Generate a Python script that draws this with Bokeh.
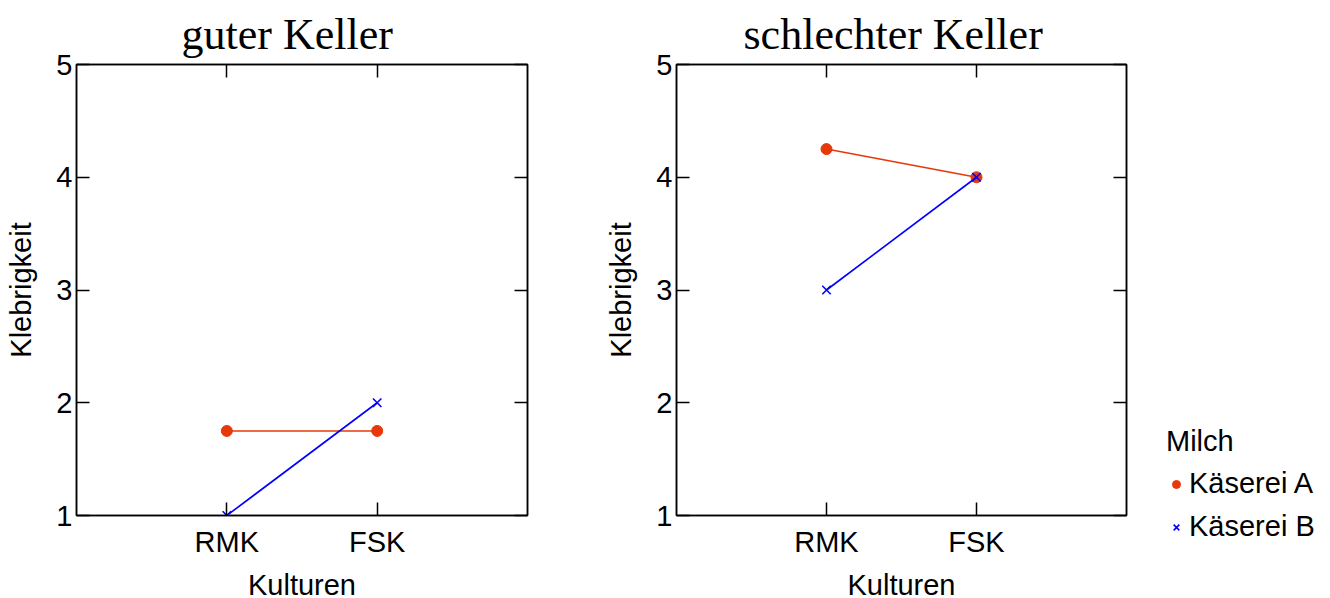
from bokeh.plotting import figure
from bokeh.layouts import row, column
from bokeh.models import (Range1d, FixedTicker, LinearAxis, Legend, LegendItem,
                          ColumnDataSource)
from bokeh.embed import file_html
from bokeh.resources import INLINE

# ---- data ----
categories = ["RMK", "FSK"]
panel_titles = ["guter Keller", "schlechter Keller"]
guter_A = [1.75, 1.75]
guter_B = [1.0, 2.0]
schlechter_A = [4.25, 4.0]
schlechter_B = [3.0, 4.0]
series_names = ["Käserei A", "Käserei B"]
y_ticks = [1, 2, 3, 4, 5]
legend_title = "Milch"

RED = "#E8380A"
BLUE = "#0000FF"
SANS = "Liberation Sans"
SERIF = "Liberation Serif"

xpos = [i + 1 for i in range(len(categories))]
overrides = {x: c for x, c in zip(xpos, categories)}


def add_series(p, a_vals, b_vals):
    src_a = ColumnDataSource(dict(x=xpos, y=a_vals))
    src_b = ColumnDataSource(dict(x=xpos, y=b_vals))
    p.line("x", "y", source=src_a, line_color=RED, line_width=1.6)
    ra = p.scatter("x", "y", source=src_a, marker="circle", size=11,
                   fill_color=RED, line_color=RED)
    p.line("x", "y", source=src_b, line_color=BLUE, line_width=1.6)
    rb = p.scatter("x", "y", source=src_b, marker="x", size=12,
                   line_color=BLUE, line_width=1.6)
    return ra, rb


def make_panel(title, a_vals, b_vals, border_top, border_bottom, frame_w,
               border_right, title_offset):
    p = figure(frame_width=frame_w, frame_height=451,
               min_border_left=76, min_border_right=border_right,
               min_border_top=border_top, min_border_bottom=border_bottom,
               x_range=Range1d(0, len(categories) + 1), y_range=Range1d(1, 5),
               output_backend="svg", toolbar_location=None,
               background_fill_color="white", border_fill_color="white",
               outline_line_color="black", outline_line_width=1.5)
    p.title.text = title
    p.title.text_font = SERIF
    p.title.text_font_size = "44px"
    p.title.text_font_style = "normal"
    p.title.align = "left"
    p.title.offset = title_offset
    p.title.standoff = 11
    p.title.text_color = "black"
    p.xgrid.visible = False
    p.ygrid.visible = False

    # main axes
    for ax in (p.xaxis[0], p.yaxis[0]):
        ax.major_tick_in = 13
        ax.major_tick_out = 0
        ax.minor_tick_in = 0
        ax.minor_tick_out = 0
        ax.axis_line_color = "black"
        ax.axis_line_width = 1.5
        ax.major_tick_line_color = "black"
        ax.major_tick_line_width = 1.5
        ax.major_label_text_font = SANS
        ax.major_label_text_font_size = "29px"
        ax.major_label_text_color = "black"
        ax.axis_label_text_font = SANS
        ax.axis_label_text_font_size = "29px"
        ax.axis_label_text_font_style = "normal"
        ax.axis_label_text_color = "black"
    p.xaxis[0].ticker = FixedTicker(ticks=xpos)
    p.xaxis[0].major_label_overrides = overrides
    p.xaxis[0].major_label_standoff = 10
    p.xaxis[0].axis_label = "Kulturen"
    p.xaxis[0].axis_label_standoff = 8
    p.yaxis[0].ticker = FixedTicker(ticks=y_ticks)
    p.yaxis[0].major_label_standoff = 4
    p.yaxis[0].axis_label = "Klebrigkeit"
    p.yaxis[0].axis_label_standoff = 16

    # mirrored axes (ticks only)
    top = LinearAxis(ticker=FixedTicker(ticks=xpos),
                     major_label_overrides={x: "" for x in xpos})
    right = LinearAxis(ticker=FixedTicker(ticks=y_ticks),
                       major_label_overrides={y: "" for y in y_ticks})
    for ax in (top, right):
        ax.major_tick_in = 13
        ax.major_tick_out = 0
        ax.minor_tick_in = 0
        ax.minor_tick_out = 0
        ax.major_label_standoff = 0
        ax.major_label_text_font_size = "1px"
        ax.axis_line_color = "black"
        ax.axis_line_width = 1.5
        ax.major_tick_line_color = "black"
        ax.major_tick_line_width = 1.5
    p.add_layout(top, "above")
    p.add_layout(right, "right")

    ra, rb = add_series(p, a_vals, b_vals)
    return p, ra, rb


p1, _, _ = make_panel(panel_titles[0], guter_A, guter_B, 62, 85, 451, 73, 105)
p2, _, _ = make_panel(panel_titles[1], schlechter_A, schlechter_B, 64, 83,
                      450, 20, 67)

# legend panel (its glyphs lie outside the visible range; only the key shows)
p3 = figure(width=184, height=598, min_border=0,
            min_border_left=0, min_border_right=0,
            min_border_top=0, min_border_bottom=0,
            x_range=Range1d(-20, -19), y_range=Range1d(-20, -19),
            x_axis_type=None, y_axis_type=None,
            output_backend="svg", toolbar_location=None,
            outline_line_color=None, background_fill_color="white",
            border_fill_color="white")
p3.title.visible = False
p3.xgrid.visible = False
p3.ygrid.visible = False
ra3, rb3 = add_series(p3, schlechter_A, schlechter_B)

legend = Legend(items=[LegendItem(label=series_names[0], renderers=[ra3]),
                       LegendItem(label=series_names[1], renderers=[rb3])],
                title=legend_title, location=(20, 55))
legend.title_text_font = SANS
legend.title_text_font_size = "29px"
legend.title_text_font_style = "normal"
legend.title_text_color = "black"
legend.label_text_font = SANS
legend.label_text_font_size = "29px"
legend.label_text_color = "black"
legend.border_line_color = None
legend.background_fill_alpha = 0
legend.padding = 0
legend.margin = 0
legend.glyph_width = 20
legend.glyph_height = 20
legend.label_standoff = 3
legend.label_height = 30
legend.spacing = 10
legend.title_standoff = 9
p3.add_layout(legend, "center")

layout = row(p1, p2, column(p3))
open("out.html", "w").write(file_html(layout, INLINE))
